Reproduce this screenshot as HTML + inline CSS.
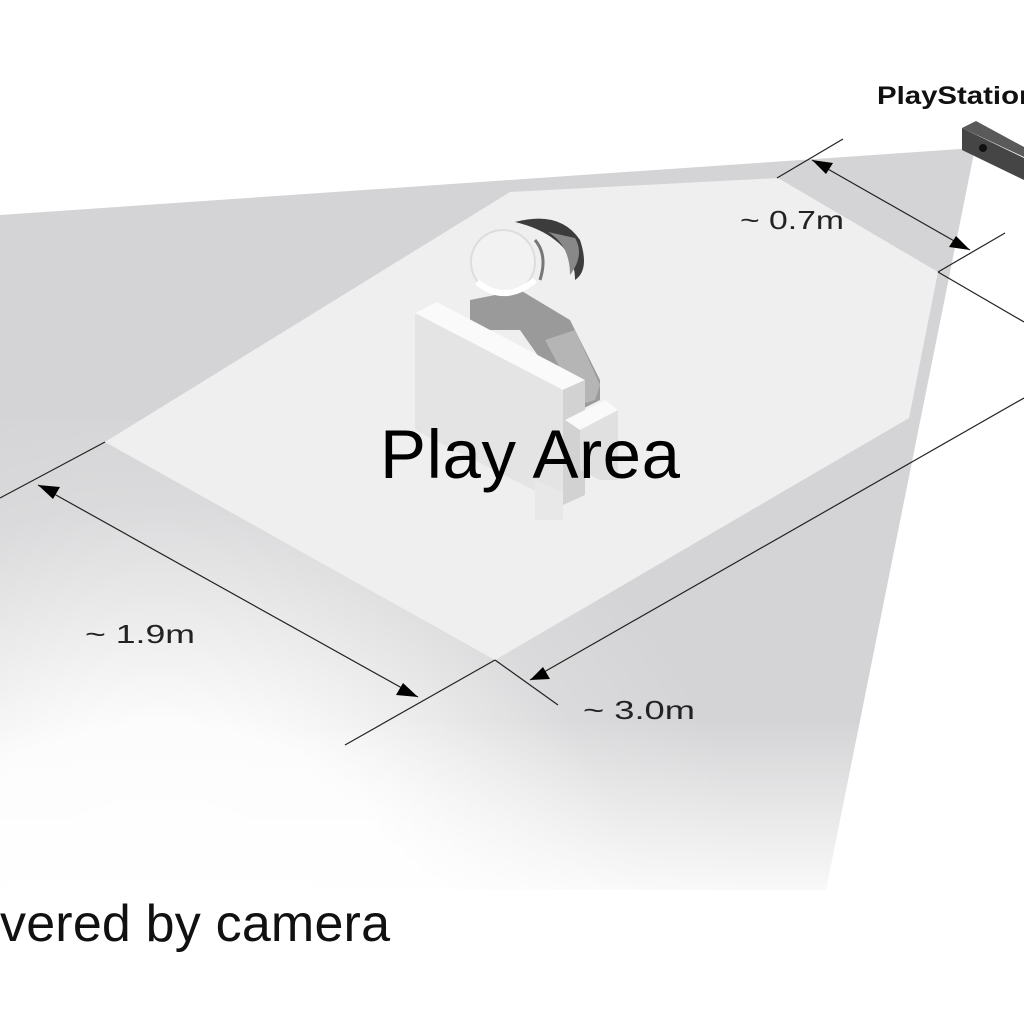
<!DOCTYPE html>
<html><head><meta charset="utf-8"><style>html,body{margin:0;padding:0;background:#fff;}svg{display:block}</style></head>
<body>
<svg width="1024" height="1024" viewBox="0 0 1024 1024" xmlns="http://www.w3.org/2000/svg">
<defs>
<radialGradient id="fade" cx="160" cy="1000" r="620" gradientUnits="userSpaceOnUse">
<stop offset="0" stop-color="#fff" stop-opacity="1"/>
<stop offset="0.45" stop-color="#fff" stop-opacity="0.92"/>
<stop offset="0.8" stop-color="#fff" stop-opacity="0.15"/>
<stop offset="1" stop-color="#fff" stop-opacity="0"/>
</radialGradient>
<linearGradient id="fade2" x1="0" y1="720" x2="0" y2="900" gradientUnits="userSpaceOnUse">
<stop offset="0" stop-color="#fff" stop-opacity="0"/>
<stop offset="1" stop-color="#fff" stop-opacity="0.9"/>
</linearGradient>
</defs>
<rect width="1024" height="1024" fill="#fff"/>
<polygon points="0,215 975,148 826,890 0,890" fill="#d4d4d6"/>
<rect x="0" y="420" width="1024" height="600" fill="url(#fade)"/>
<rect x="0" y="720" width="1024" height="250" fill="url(#fade2)"/>
<polygon points="105,442 510,192 778,178 938,272 909,418 495,660" fill="#efefef"/>
<!-- camera -->
<polygon points="962,128 976,121 1024,147 1024,157" fill="#5a5a5a"/>
<polygon points="962,128 1024,158 1024,180 962,150" fill="#454545"/>
<circle cx="983" cy="148" r="4" fill="#111"/>
<text x="877" y="104" font-family="Liberation Sans, sans-serif" font-weight="bold" font-size="25" fill="#111" textLength="160" lengthAdjust="spacingAndGlyphs">PlayStation</text>
<!-- person -->
<path d="M470,300 L520,290 L570,320 L600,380 L600,400 L580,410 L555,380 L520,330 L470,330 Z" fill="#9a9a9a"/>
<path d="M545,340 L575,330 L600,385 L595,400 L580,405 Z" fill="#b5b5b5"/>
<path d="M560,395 L585,400 L585,420 L565,420 Z" fill="#606060"/>
<circle cx="503" cy="262" r="32" fill="#f2f2f2" stroke="#ddd" stroke-width="2"/>
<path d="M477,282 Q505,305 535,280" fill="none" stroke="#fff" stroke-width="6"/>
<path d="M515,222 Q560,210 580,240 Q590,270 575,280 Q575,255 555,240 Q540,228 515,222 Z" fill="#3c3c3c"/>
<path d="M548,232 Q570,245 570,275 Q585,255 575,238 Z" fill="#888"/>
<path d="M535,240 Q548,255 540,280" fill="none" stroke="#777" stroke-width="3"/>
<!-- chair -->
<polygon points="415,313 437,302 585,380 563,390" fill="#fafafa"/>
<polygon points="415,313 563,390 563,505 415,430" fill="#e4e4e4"/>
<polygon points="563,390 585,380 585,495 563,505" fill="#d2d2d2"/>
<polygon points="535,480 563,492 563,520 535,520" fill="#e8e8e8"/>
<polygon points="565,420 605,400 618,410 580,430" fill="#fafafa"/>
<polygon points="580,430 618,410 618,480 600,480 580,470" fill="#e0e0e0"/>
<text x="380" y="478" font-family="Liberation Sans, sans-serif" font-size="69" fill="#000" textLength="300">Play Area</text>
<g stroke="#222" stroke-width="1.2" fill="none">
<line x1="843" y1="139" x2="777" y2="178"/>
<line x1="1005" y1="233" x2="938" y2="272"/>
<line x1="812" y1="160" x2="970" y2="250"/>
<line x1="938" y1="272" x2="1024" y2="322"/>
<line x1="105" y1="442" x2="0" y2="498"/>
<line x1="38" y1="485" x2="418" y2="697"/>
<line x1="495" y1="660" x2="345" y2="745"/>
<line x1="495" y1="660" x2="558" y2="705"/>
<line x1="530" y1="680" x2="1024" y2="398"/>
</g>
<g fill="#000">
<polygon points="812,160 833,163 826,174"/>
<polygon points="970,250 949,247 956,236"/>
<polygon points="38,485 60,487 53,499"/>
<polygon points="418,697 396,695 403,683"/>
<polygon points="530,680 543,667 550,679"/>
</g>
<g font-family="Liberation Sans, sans-serif" font-size="26" fill="#222" lengthAdjust="spacingAndGlyphs">
<text x="740" y="229" textLength="104" lengthAdjust="spacingAndGlyphs">~ 0.7m</text>
<text x="85" y="643" textLength="110" lengthAdjust="spacingAndGlyphs">~ 1.9m</text>
<text x="583" y="719" textLength="112" lengthAdjust="spacingAndGlyphs">~ 3.0m</text>
</g>
<text x="0" y="941" font-family="Liberation Sans, sans-serif" font-size="52" fill="#111" textLength="390">vered by camera</text>
</svg>
</body></html>
